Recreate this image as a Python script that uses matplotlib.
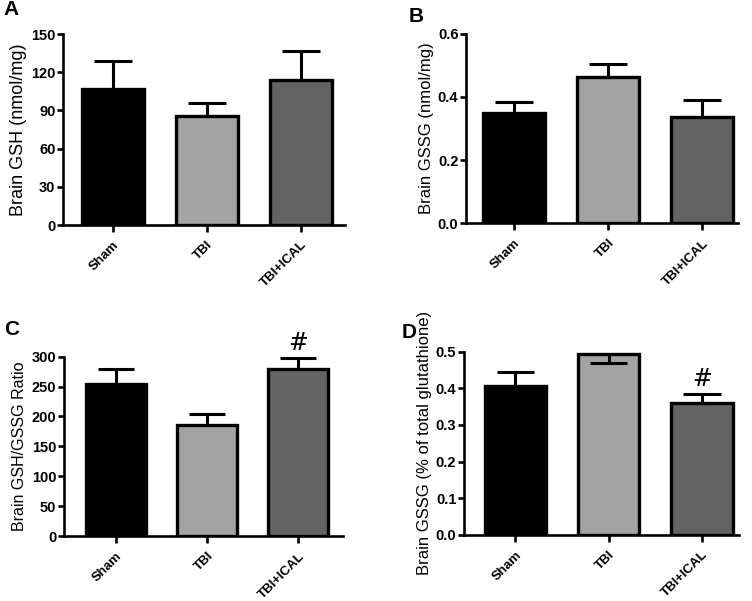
import matplotlib.pyplot as plt

plt.rcParams['font.family'] = ['Liberation Sans', 'DejaVu Sans']

groups = ["Sham", "TBI", "TBI+ICAL"]
bar_colors = ["#000000", "#a3a3a3", "#636363"]

gsh = [107, 86, 114]
gsh_err = [22, 10, 23]

gssg = [0.348, 0.464, 0.337]
gssg_err = [0.036, 0.041, 0.053]

ratio = [254, 186, 279]
ratio_err = [26, 18, 18]

gssg_pct = [0.406, 0.494, 0.359]
gssg_pct_err = [0.039, 0.024, 0.025]
# TBI error in panel D is drawn downward inside the bar
gssg_pct_down = [False, True, False]

hash_marks_c = ["", "", "#"]
hash_marks_d = ["", "", "#"]


def draw_panel(ax, vals, errs, ylabel, ylim, yticks, ytick_fmt, xlim,
               label_size=12.5, down=None, marks=None, mark_pad=0.0):
    x = list(range(len(groups)))
    ax.bar(x, vals, width=0.66, color=bar_colors, edgecolor="black",
           linewidth=2.4, zorder=2)
    for i, (v, e) in enumerate(zip(vals, errs)):
        sign = -1 if (down and down[i]) else 1
        top = v + sign * e
        ax.plot([i, i], [v, top], color="black", lw=2.2, zorder=3,
                solid_capstyle="butt")
        ax.plot([i - 0.2, i + 0.2], [top, top], color="black", lw=2.2,
                zorder=3, solid_capstyle="butt")
        if marks and marks[i]:
            ax.text(i, v + e + mark_pad, marks[i], ha="center", va="bottom",
                    fontsize=17, family="DejaVu Serif")
    ax.set_xlim(*xlim)
    ax.set_ylim(*ylim)
    ax.set_yticks(yticks)
    ax.set_yticklabels([ytick_fmt.format(t) for t in yticks],
                       fontsize=10.5, fontweight="bold")
    ax.set_xticks(x)
    ax.set_xticklabels(groups, rotation=45, ha="right",
                       rotation_mode="anchor", fontsize=9.5, fontweight="bold")
    ax.set_ylabel(ylabel, fontsize=label_size, labelpad=3)
    for s in ["top", "right"]:
        ax.spines[s].set_visible(False)
    for s in ["left", "bottom"]:
        ax.spines[s].set_linewidth(1.9)
    ax.tick_params(axis="y", width=1.9, length=4, pad=1.5)
    ax.tick_params(axis="x", width=1.9, length=5, pad=5)
    ax.spines["left"].set_bounds(ylim[0], ylim[1])


fig = plt.figure(figsize=(7.52, 6.01), dpi=100)

ax_a = fig.add_axes([0.0838, 0.6256, 0.375, 0.3178])
draw_panel(ax_a, gsh, gsh_err, "Brain GSH (nmol/mg)", (0, 150),
           [0, 30, 60, 90, 120, 150], "{:.0f}", (-0.53, 2.47), label_size=13)

ax_b = fig.add_axes([0.6197, 0.6285, 0.3617, 0.3155])
draw_panel(ax_b, gssg, gssg_err, "Brain GSSG (nmol/mg)", (0, 0.6),
           [0, 0.2, 0.4, 0.6], "{:.1f}", (-0.51, 2.38), label_size=12)

ax_c = fig.add_axes([0.085, 0.108, 0.371, 0.2985])
draw_panel(ax_c, ratio, ratio_err, "Brain GSH/GSSG Ratio", (0, 300),
           [0, 50, 100, 150, 200, 250, 300], "{:.0f}", (-0.57, 2.49),
           label_size=11.5, marks=hash_marks_c, mark_pad=6)

ax_d = fig.add_axes([0.617, 0.11, 0.366, 0.3048])
draw_panel(ax_d, gssg_pct, gssg_pct_err, "Brain GSSG (% of total glutathione)",
           (0, 0.5), [0, 0.1, 0.2, 0.3, 0.4, 0.5], "{:.1f}", (-0.55, 2.40),
           label_size=12, down=gssg_pct_down, marks=hash_marks_d,
           mark_pad=0.01)

for lbl, (px, py) in zip("ABCD", [(3, 15), (409, 22), (4, 335), (402, 338)]):
    fig.text(px / 752, 1 - py / 601, lbl, fontsize=15, fontweight="bold",
             ha="left", va="baseline")

fig.savefig("out.png", dpi=100)
